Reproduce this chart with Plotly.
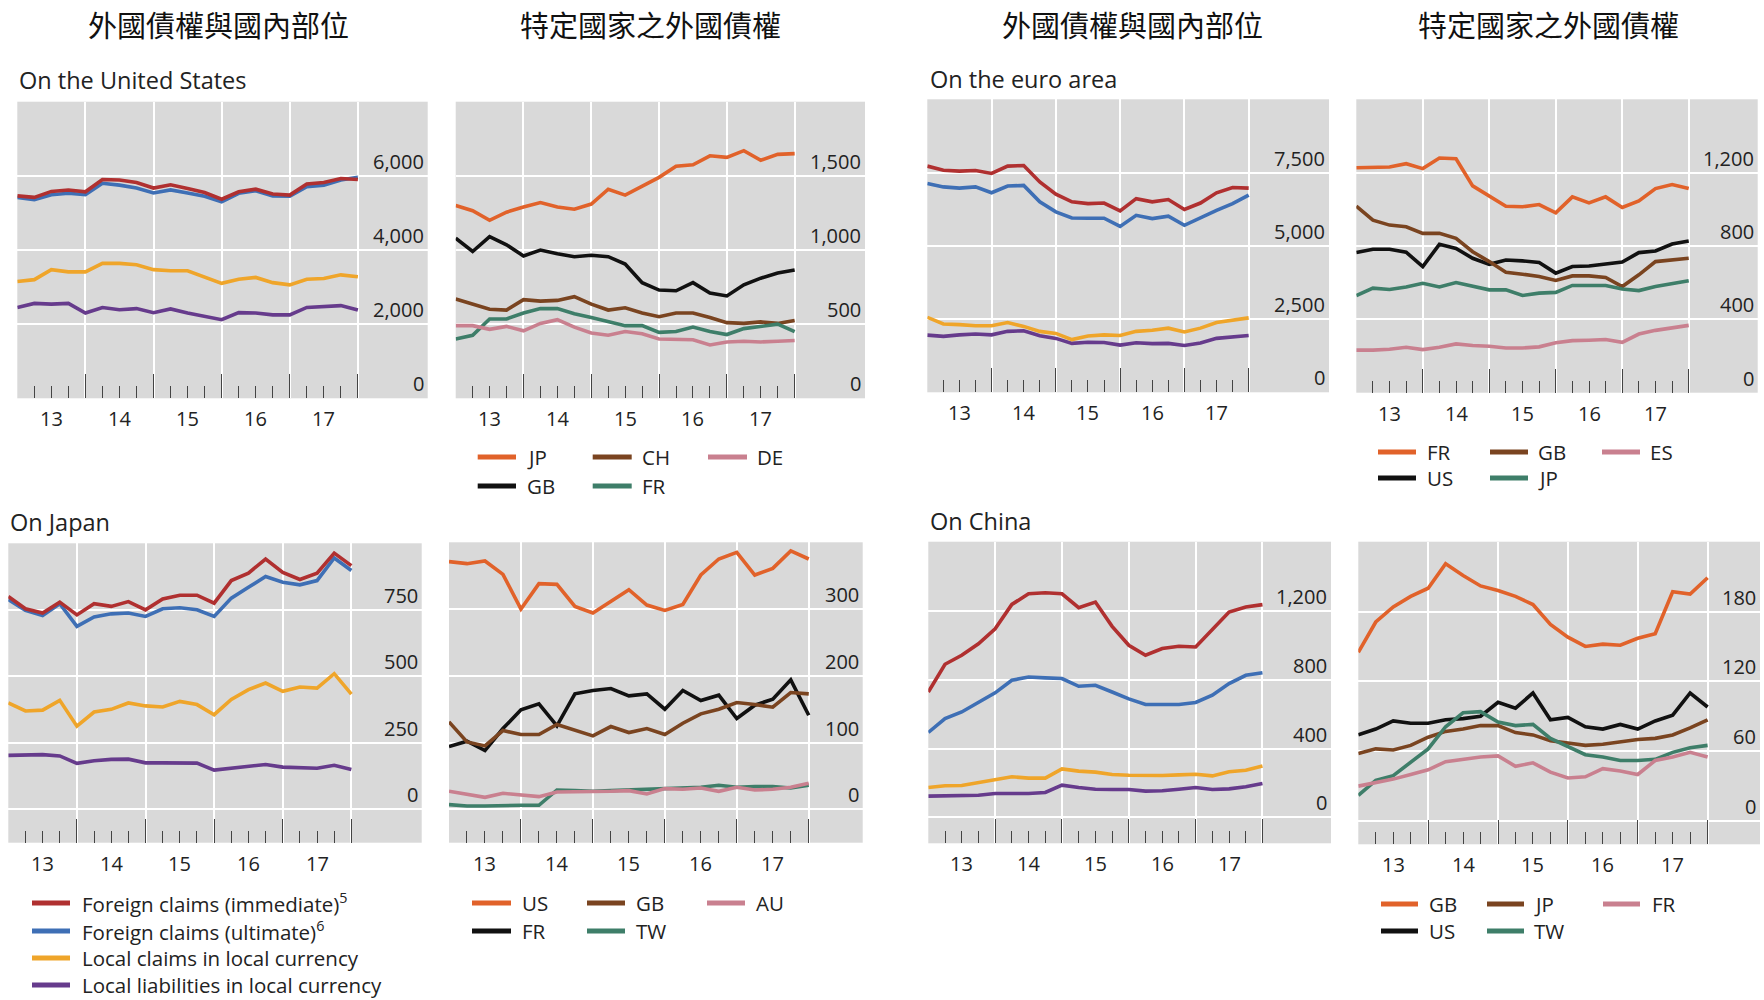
import plotly.graph_objects as go

W, H = 1764, 1000

# ---------------- data ----------------
quarters = ["2012Q4",
            "2013Q1", "2013Q2", "2013Q3", "2013Q4",
            "2014Q1", "2014Q2", "2014Q3", "2014Q4",
            "2015Q1", "2015Q2", "2015Q3", "2015Q4",
            "2016Q1", "2016Q2", "2016Q3", "2016Q4",
            "2017Q1", "2017Q2", "2017Q3", "2017Q4"]
year_labels = ["13", "14", "15", "16", "17"]

# On the United States
us_immediate = [5460, 5420, 5580, 5620, 5570, 5900, 5890, 5820, 5670, 5760, 5660, 5550, 5370, 5570, 5640, 5510, 5480, 5780, 5820, 5930, 5900]
us_ultimate = [5420, 5360, 5490, 5530, 5490, 5800, 5750, 5670, 5540, 5620, 5540, 5450, 5300, 5530, 5600, 5460, 5450, 5710, 5750, 5890, 5960]
us_local_claims = [3150, 3200, 3470, 3410, 3410, 3640, 3640, 3600, 3470, 3440, 3440, 3280, 3100, 3210, 3260, 3120, 3060, 3210, 3230, 3330, 3280]
us_local_liab = [2450, 2560, 2540, 2560, 2300, 2450, 2390, 2420, 2310, 2410, 2300, 2200, 2120, 2310, 2300, 2250, 2250, 2450, 2470, 2500, 2380]

us_by_JP = [1300, 1265, 1200, 1255, 1290, 1320, 1290, 1275, 1310, 1410, 1370, 1430, 1490, 1565, 1575, 1635, 1625, 1670, 1605, 1645, 1650]
us_by_GB = [1080, 990, 1090, 1035, 960, 1000, 975, 955, 965, 955, 905, 780, 730, 725, 780, 710, 690, 765, 810, 845, 865]
us_by_CH = [670, 635, 600, 595, 665, 655, 660, 685, 635, 595, 610, 575, 550, 575, 575, 545, 510, 505, 515, 505, 525]
us_by_FR = [400, 425, 535, 535, 575, 605, 605, 570, 545, 520, 490, 490, 445, 450, 480, 450, 430, 470, 485, 500, 450]
us_by_DE = [490, 490, 465, 485, 455, 505, 530, 480, 440, 425, 450, 435, 400, 400, 395, 360, 380, 385, 380, 385, 390]

# On the euro area
ea_immediate = [7720, 7580, 7550, 7570, 7470, 7720, 7740, 7180, 6760, 6500, 6440, 6460, 6190, 6610, 6500, 6580, 6240, 6460, 6810, 6990, 6970]
ea_ultimate = [7130, 7010, 6970, 7010, 6810, 7040, 7060, 6500, 6160, 5950, 5940, 5940, 5660, 6040, 5930, 6010, 5700, 5960, 6210, 6440, 6730]
ea_local_claims = [2560, 2330, 2310, 2270, 2270, 2380, 2250, 2080, 2010, 1800, 1920, 1960, 1940, 2080, 2120, 2190, 2060, 2190, 2380, 2470, 2540]
ea_local_liab = [1950, 1910, 1960, 1990, 1960, 2080, 2100, 1930, 1840, 1670, 1710, 1700, 1610, 1690, 1660, 1670, 1600, 1680, 1840, 1900, 1940]

ea_by_FR = [1227, 1227, 1231, 1249, 1222, 1280, 1276, 1128, 1072, 1017, 1014, 1026, 981, 1068, 1035, 1068, 1010, 1046, 1113, 1135, 1113]
ea_by_US = [764, 782, 782, 766, 688, 809, 787, 733, 700, 724, 719, 710, 652, 688, 691, 700, 713, 764, 773, 811, 827]
ea_by_GB = [1017, 941, 914, 905, 869, 869, 842, 769, 715, 657, 646, 634, 612, 637, 637, 628, 579, 643, 715, 724, 733]
ea_by_JP = [530, 570, 563, 576, 597, 577, 601, 579, 561, 561, 530, 543, 547, 585, 585, 585, 565, 557, 579, 597, 610]
ea_by_ES = [232, 232, 237, 248, 235, 248, 266, 257, 253, 244, 244, 250, 272, 284, 286, 290, 275, 320, 340, 353, 367]

# On Japan
jp_immediate = [800, 754, 738, 779, 731, 773, 763, 781, 750, 791, 805, 805, 775, 860, 888, 941, 891, 864, 888, 963, 916]
jp_ultimate = [789, 748, 729, 773, 688, 723, 735, 738, 725, 754, 758, 750, 725, 794, 835, 875, 854, 844, 860, 945, 898]
jp_local_claims = [400, 370, 373, 410, 313, 366, 376, 400, 389, 385, 406, 394, 356, 413, 450, 475, 444, 460, 456, 510, 433]
jp_local_liab = [203, 203, 206, 201, 173, 183, 188, 189, 175, 175, 174, 174, 148, 154, 163, 169, 159, 156, 155, 166, 150]

jp_by_US = [371, 368, 372, 352, 300, 338, 337, 304, 294, 311, 329, 306, 298, 307, 351, 375, 385, 351, 361, 387, 375]
jp_by_FR = [94, 102, 88, 121, 149, 158, 125, 173, 178, 181, 170, 173, 150, 178, 163, 171, 136, 156, 165, 194, 141]
jp_by_GB = [131, 101, 95, 118, 112, 112, 127, 118, 110, 124, 115, 121, 112, 129, 143, 150, 160, 157, 153, 175, 173]
jp_by_TW = [7, 5, 5, 6, 6, 6, 29, 28, 27, 28, 29, 30, 32, 33, 33, 36, 33, 34, 34, 32, 36]
jp_by_AU = [27, 23, 18, 24, 21, 19, 26, 26, 27, 27, 28, 23, 31, 30, 32, 27, 33, 29, 30, 33, 39]

# On China
cn_immediate = [728, 889, 941, 1008, 1095, 1236, 1298, 1304, 1298, 1217, 1250, 1109, 999, 941, 980, 993, 989, 1090, 1192, 1221, 1235]
cn_ultimate = [493, 574, 612, 665, 723, 796, 815, 810, 806, 761, 767, 728, 688, 655, 657, 655, 667, 709, 777, 825, 840]
cn_local_claims = [174, 184, 185, 201, 220, 236, 228, 228, 282, 269, 263, 249, 245, 243, 243, 247, 251, 241, 265, 274, 298]
cn_local_liab = [124, 124, 126, 129, 139, 139, 139, 145, 187, 174, 164, 162, 162, 153, 155, 164, 174, 162, 166, 178, 197]

cn_by_GB = [145, 171, 184, 193, 200, 221, 211, 202, 198, 193, 186, 169, 158, 150, 152, 151, 157, 161, 197, 195, 209]
cn_by_US = [74, 79, 86, 84, 84, 87, 88, 90, 102, 97, 110, 87, 89, 81, 79, 83, 79, 86, 91, 110, 98]
cn_by_JP = [58, 62, 61, 65, 72, 77, 79, 82, 82, 76, 74, 69, 67, 65, 66, 68, 70, 71, 74, 80, 87]
cn_by_TW = [22, 35, 39, 51, 62, 81, 93, 94, 85, 82, 83, 71, 64, 57, 55, 52, 52, 53, 59, 63, 65]
cn_by_FR = [30, 33, 36, 40, 44, 51, 53, 55, 56, 47, 50, 42, 37, 38, 45, 43, 40, 52, 55, 59, 55]

# y tick values per panel
yticks_us = [0, 2000, 4000, 6000]
yticks_us_by = [0, 500, 1000, 1500]
yticks_ea = [0, 2500, 5000, 7500]
yticks_ea_by = [0, 400, 800, 1200]
yticks_jp = [0, 250, 500, 750]
yticks_jp_by = [0, 100, 200, 300]
yticks_cn = [0, 400, 800, 1200]
yticks_cn_by = [0, 60, 120, 180]

# ---------------- styles ----------------
RED = "#B03030"
BLUE = "#3E6FB5"
AMBER = "#EFA52A"
PURPLE = "#663B8C"
ORANGE = "#E1622A"
BLACK = "#111111"
BROWN = "#7A4420"
TEAL = "#3E7E69"
PINK = "#C9808F"
GREY_BG = "#D9D9D9"
TICK = "#444444"
TXT = "#222222"
LATIN = "Open Sans"
CJK = "Noto Sans CJK TC"

agg_names = ["Foreign claims (immediate)<sup>5</sup>", "Foreign claims (ultimate)<sup>6</sup>",
             "Local claims in local currency", "Local liabilities in local currency"]
agg_colors = [RED, BLUE, AMBER, PURPLE]

panels = [
    dict(box=(17.3, 101.7, 427.7, 398.3), xmax=24.1, yr=(0, 8000), yt=yticks_us,
         series=[(us_local_liab, PURPLE), (us_local_claims, AMBER), (us_ultimate, BLUE), (us_immediate, RED)]),
    dict(box=(455.7, 101.7, 865.0, 398.3), xmax=24.15, yr=(0, 2000), yt=yticks_us_by,
         series=[(us_by_JP, ORANGE), (us_by_GB, BLACK), (us_by_CH, BROWN), (us_by_FR, TEAL), (us_by_DE, PINK)]),
    dict(box=(927.3, 99.3, 1329.0, 392.3), xmax=25.0, yr=(0, 10000), yt=yticks_ea,
         series=[(ea_local_liab, PURPLE), (ea_local_claims, AMBER), (ea_ultimate, BLUE), (ea_immediate, RED)]),
    dict(box=(1356.3, 99.3, 1757.7, 392.7), xmax=24.15, yr=(0, 1600), yt=yticks_ea_by,
         series=[(ea_by_FR, ORANGE), (ea_by_US, BLACK), (ea_by_GB, BROWN), (ea_by_JP, TEAL), (ea_by_ES, PINK)]),
    dict(box=(8.3, 543.3, 421.7, 842.7), xmax=24.1, yr=(-125, 1000), yt=yticks_jp,
         series=[(jp_local_liab, PURPLE), (jp_local_claims, AMBER), (jp_ultimate, BLUE), (jp_immediate, RED)]),
    dict(box=(449.0, 542.3, 862.7, 842.7), xmax=23.0, yr=(-50, 400), yt=yticks_jp_by,
         series=[(jp_by_US, ORANGE), (jp_by_FR, BLACK), (jp_by_GB, BROWN), (jp_by_TW, TEAL), (jp_by_AU, PINK)]),
    dict(box=(928.3, 541.7, 1331.0, 843.3), xmax=24.1, yr=(-150, 1600), yt=yticks_cn,
         series=[(cn_local_liab, PURPLE), (cn_local_claims, AMBER), (cn_ultimate, BLUE), (cn_immediate, RED)]),
    dict(box=(1358.3, 541.7, 1760.0, 844.3), xmax=23.0, yr=(-20, 240), yt=yticks_cn_by,
         series=[(cn_by_GB, ORANGE), (cn_by_US, BLACK), (cn_by_JP, BROWN), (cn_by_TW, TEAL), (cn_by_FR, PINK)]),
]

xpos = list(range(len(quarters)))
major = [i for i, q in enumerate(quarters) if q.endswith("Q4")]
minor = [i for i in xpos if i not in major]
label_pos = [(major[k] + major[k + 1]) / 2 for k in range(len(major) - 1)]

fig = go.Figure()
annotations = []
shapes = []

for n, p in enumerate(panels, start=1):
    sx = "" if n == 1 else str(n)
    x0, y0, x1, y1 = p["box"]
    for vals, col in p["series"]:
        fig.add_trace(go.Scatter(x=xpos, y=vals, mode="lines", line=dict(color=col, width=3.6),
                                 xaxis="x" + sx, yaxis="y" + sx, showlegend=False, hoverinfo="skip"))
    fig.update_layout(**{
        "xaxis" + sx: dict(domain=[x0 / W, x1 / W], range=[0, p["xmax"]], anchor="y" + sx,
                           tickmode="array", tickvals=major, ticks="inside", ticklen=24, tickwidth=1.3,
                           tickcolor=TICK, showticklabels=False, showgrid=True, gridcolor="white",
                           gridwidth=2, zeroline=False, showline=False, fixedrange=True,
                           minor=dict(tickmode="array", tickvals=minor, ticks="inside", ticklen=12,
                                      tickwidth=1.3, tickcolor=TICK, showgrid=False)),
        "yaxis" + sx: dict(domain=[1 - y1 / H, 1 - y0 / H], range=list(p["yr"]), anchor="x" + sx,
                           tickmode="array", tickvals=p["yt"], showticklabels=False, ticks="",
                           showgrid=True, gridcolor="white", gridwidth=2, zeroline=False,
                           showline=False, fixedrange=True),
    })
    for v in p["yt"]:
        annotations.append(dict(xref=f"x{sx} domain", yref="y" + sx, x=1, y=v, xanchor="right",
                                yanchor="bottom", xshift=-2, yshift=-1, showarrow=False,
                                text=f"{v:,}", font=dict(family=LATIN, size=20, color=TXT)))
    for lp, lab in zip(label_pos, year_labels):
        annotations.append(dict(xref="x" + sx, yref=f"y{sx} domain", x=lp, y=0, xanchor="center",
                                yanchor="top", yshift=-5, showarrow=False, text=lab,
                                font=dict(family=LATIN, size=20, color=TXT)))

# titles
for cx, t in [(218, "外國債權與國內部位"), (650, "特定國家之外國債權"),
              (1132, "外國債權與國內部位"), (1548, "特定國家之外國債權")]:
    annotations.append(dict(xref="paper", yref="paper", x=cx / W, y=1, xanchor="center",
                            yanchor="top", yshift=-1, showarrow=False, text=t,
                            font=dict(family=CJK, size=29, color="#111")))

# subtitles
for lx, ly, t in [(17, 80, "On the United States"), (928, 79, "On the euro area"),
                  (8, 522, "On Japan"), (928, 521, "On China")]:
    annotations.append(dict(xref="paper", yref="paper", x=lx / W, y=1 - ly / H, xanchor="left",
                            yanchor="middle", showarrow=False, text=t,
                            font=dict(family=LATIN, size=23.5, color=TXT)))


def legend_item(xa, xb, xt, yy, col, text):
    shapes.append(dict(type="line", xref="paper", yref="paper", x0=xa / W, x1=xb / W,
                       y0=1 - yy / H, y1=1 - yy / H, line=dict(color=col, width=5)))
    annotations.append(dict(xref="paper", yref="paper", x=xt / W, y=1 - yy / H, xanchor="left",
                            yanchor="middle", showarrow=False, text=text,
                            font=dict(family=LATIN, size=20.5, color=TXT)))


# aggregate legend (Japan panel)
for k, (name, col) in enumerate(zip(agg_names, agg_colors)):
    legend_item(32, 70, 80, [903, 931, 958, 985][k], col, name)

# country legends
country_legends = [
    (["JP", "GB", "CH", "FR", "DE"], [ORANGE, BLACK, BROWN, TEAL, PINK],
     [(477.7, 516, 525), (592.7, 631.7, 640), (708, 747, 755)], [457, 486]),
    (["FR", "US", "GB", "JP", "ES"], [ORANGE, BLACK, BROWN, TEAL, PINK],
     [(1378, 1416, 1425), (1490, 1528, 1536), (1602, 1640, 1648)], [452, 478]),
    (["US", "FR", "GB", "TW", "AU"], [ORANGE, BLACK, BROWN, TEAL, PINK],
     [(472, 511, 520), (587, 625, 634), (707, 745, 754)], [903, 931]),
    (["GB", "US", "JP", "TW", "FR"], [ORANGE, BLACK, BROWN, TEAL, PINK],
     [(1381, 1418, 1427), (1487, 1524, 1532), (1603, 1640, 1650)], [904, 931]),
]
for names, cols, colx, rows in country_legends:
    for k, (nm, c) in enumerate(zip(names, cols)):
        ci, ri = k // 2, k % 2
        xa, xb, xt = colx[ci]
        legend_item(xa, xb, xt, rows[ri], c, nm)

fig.update_layout(width=W, height=H, margin=dict(l=0, r=0, t=0, b=0),
                  paper_bgcolor="white", plot_bgcolor=GREY_BG, showlegend=False,
                  annotations=annotations, shapes=shapes)

fig.write_html("out.html")
